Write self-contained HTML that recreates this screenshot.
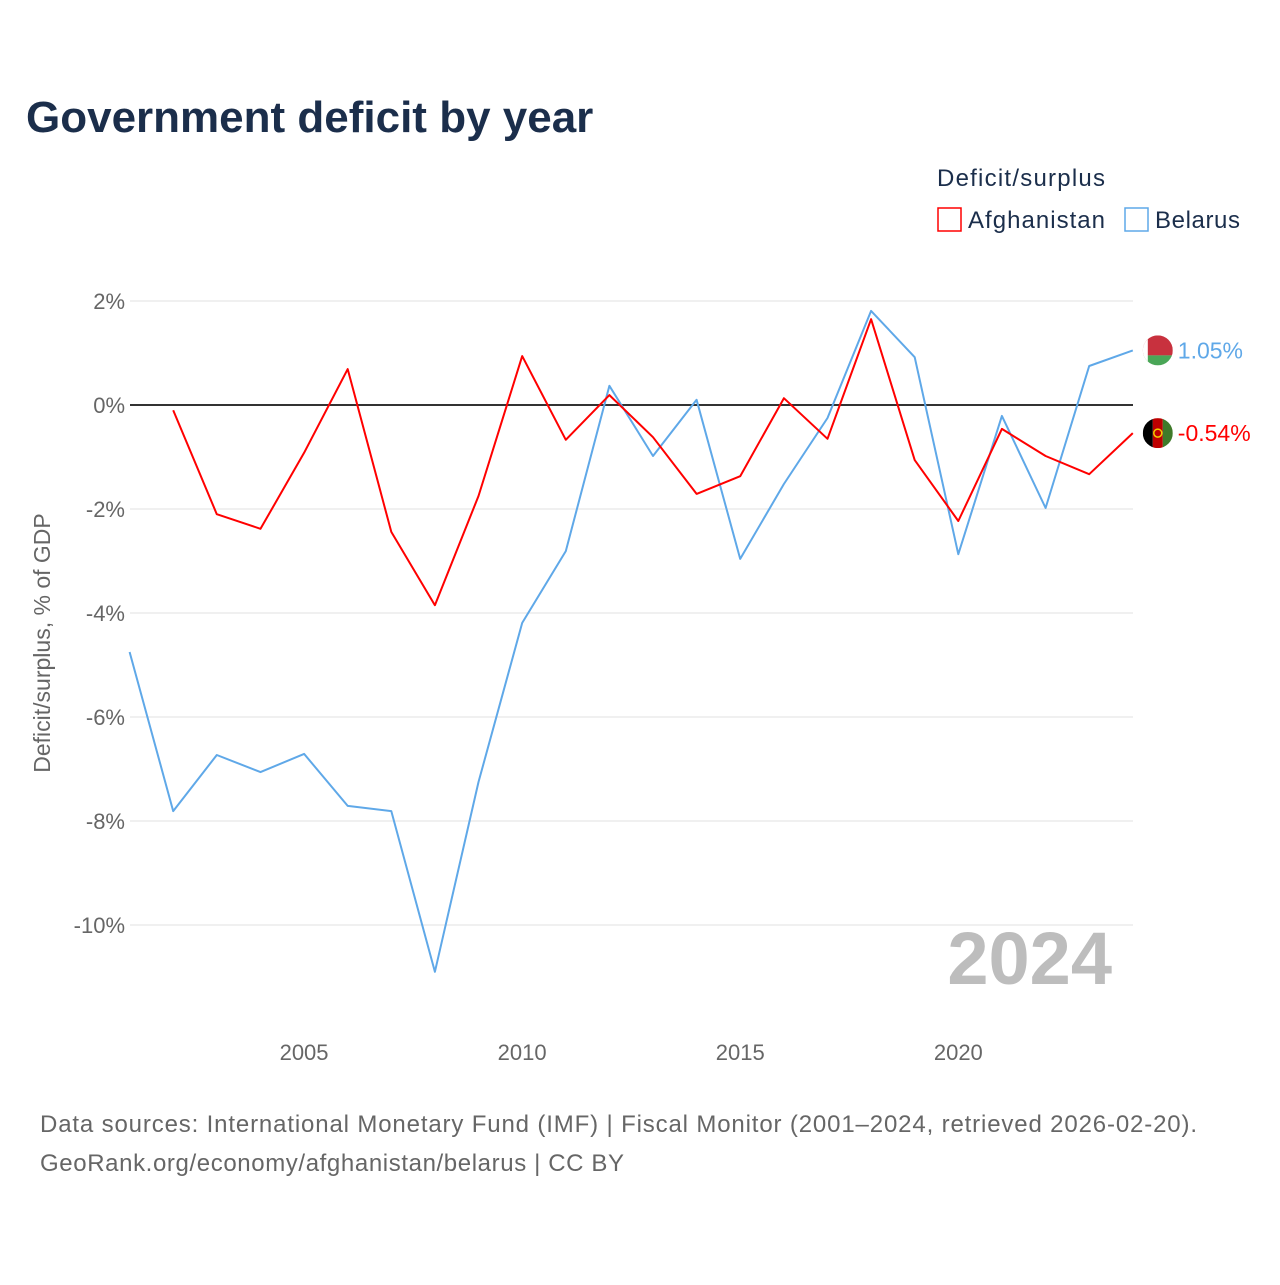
<!DOCTYPE html>
<html><head><meta charset="utf-8">
<style>
html,body{margin:0;padding:0;background:#fff;}
body{width:1280px;height:1280px;position:relative;font-family:"Liberation Sans",sans-serif;overflow:hidden;}
</style></head>
<body>
<svg id="chart" width="1280" height="1280" xmlns="http://www.w3.org/2000/svg">
<text x="26" y="132" font-size="44" font-weight="bold" fill="#1b2e4b">Government deficit by year</text>
<text x="937" y="186" font-size="24" fill="#1b2e4b" textLength="168">Deficit/surplus</text>
<g>
<rect x="938" y="208" width="23" height="23" fill="none" stroke="#ff0000" stroke-width="1.5"/>
<text x="968" y="228" font-size="24" fill="#1b2e4b" textLength="137">Afghanistan</text></g>
<g>
<rect x="1125" y="208" width="23" height="23" fill="none" stroke="#5fa8e8" stroke-width="1.5"/>
<text x="1155" y="228" font-size="24" fill="#1b2e4b" textLength="85">Belarus</text></g>
<g id="grid"></g>
<g id="yticks"></g>
<g id="xticks"></g>
<text transform="translate(50,643) rotate(-90)" text-anchor="middle" font-size="23" fill="#666">Deficit/surplus, % of GDP</text>
<text x="1112" y="984" text-anchor="end" font-size="74" font-weight="bold" fill="#bdbdbd">2024</text>
<g id="series"></g>
<text x="40" y="1132" font-size="24" fill="#666" textLength="1157">Data sources: International Monetary Fund (IMF) | Fiscal Monitor (2001–2024, retrieved 2026-02-20).</text>
<text x="40" y="1171" font-size="24" fill="#666" textLength="584">GeoRank.org/economy/afghanistan/belarus | CC BY</text>
</svg>
<script>
const years=[2001,2002,2003,2004,2005,2006,2007,2008,2009,2010,2011,2012,2013,2014,2015,2016,2017,2018,2019,2020,2021,2022,2023,2024];
const afghanistan=[null,-0.1,-2.1,-2.38,-0.92,0.69,-2.44,-3.85,-1.75,0.94,-0.67,0.19,-0.62,-1.71,-1.37,0.13,-0.65,1.65,-1.06,-2.23,-0.46,-0.98,-1.33,-0.54];
const belarus=[-4.75,-7.81,-6.73,-7.06,-6.71,-7.71,-7.81,-10.9,-7.25,-4.19,-2.81,0.37,-0.98,0.1,-2.96,-1.52,-0.25,1.81,0.92,-2.87,-0.21,-1.98,0.75,1.05];
const yTicks=[2,0,-2,-4,-6,-8,-10];
const xTicks=[2005,2010,2015,2020];
const NS="http://www.w3.org/2000/svg";
const X=y=>129.6+(y-2001)*(1132.8-129.6)/23;
const Y=v=>405-v*52;
function mk(t,a,p){const e=document.createElementNS(NS,t);for(const k in a)e.setAttribute(k,a[k]);p.appendChild(e);return e;}
const grid=document.getElementById('grid'),yt=document.getElementById('yticks'),xt=document.getElementById('xticks'),ser=document.getElementById('series');
yTicks.forEach(v=>{
 const l=mk('line',{x1:130,x2:1133,y1:Y(v),y2:Y(v),stroke:v===0?'#333':'#e6e6e6','stroke-width':v===0?2:1.3},grid);
 
 
 const t=mk('text',{x:125,y:Y(v)+8,'text-anchor':'end','font-size':22,fill:'#666'},yt);
 t.textContent=v+'%';
 
 
});
xTicks.forEach(y=>{
 const t=mk('text',{x:X(y),y:1060,'text-anchor':'middle','font-size':22,fill:'#666'},xt);
 t.textContent=y;
 
 
});
function line(vals,color,name){
 let d='';vals.forEach((v,i)=>{if(v===null)return;d+=(d?'L':'M')+X(years[i]).toFixed(1)+','+Y(v).toFixed(1);});
 const p=mk('path',{d:d,fill:'none',stroke:color,'stroke-width':2,'stroke-linejoin':'round'},ser);
 
 
}
line(belarus,'#5fa8e8','line-belarus');
line(afghanistan,'#ff0000','line-afghanistan');
function endLabel(vals,color,name,flag){
 const v=vals[vals.length-1],cx=X(2024)+25,cy=Y(v);
 const g=mk('g',{},ser);
 
 
 const id='c'+name;
 const cp=mk('clipPath',{id:id},g);mk('circle',{cx:cx,cy:cy,r:15},cp);
 const fg=mk('g',{'clip-path':'url(#'+id+')'},g);
 if(flag==='by'){mk('rect',{x:cx-15,y:cy-15,width:30,height:20,fill:'#c8313e'},fg);mk('rect',{x:cx-15,y:cy+5,width:30,height:10,fill:'#4aa657'},fg);mk('rect',{x:cx-15,y:cy-15,width:5,height:30,fill:'#fff'},fg);}
 else{mk('rect',{x:cx-15,y:cy-15,width:10,height:30,fill:'#000'},fg);mk('rect',{x:cx-5,y:cy-15,width:10,height:30,fill:'#be0000'},fg);mk('rect',{x:cx+5,y:cy-15,width:10,height:30,fill:'#3f7a2a'},fg);mk('circle',{cx:cx,cy:cy,r:4,fill:'none',stroke:'#f0d000','stroke-width':1.5},fg);}
 const t=mk('text',{x:cx+20,y:cy+8,'font-size':23,fill:color},g);
 t.textContent=v.toFixed(2)+'%';
}
endLabel(belarus,'#5fa8e8','end-label-belarus','by');
endLabel(afghanistan,'#ff0000','end-label-afghanistan','af');
</script>
</body></html>
